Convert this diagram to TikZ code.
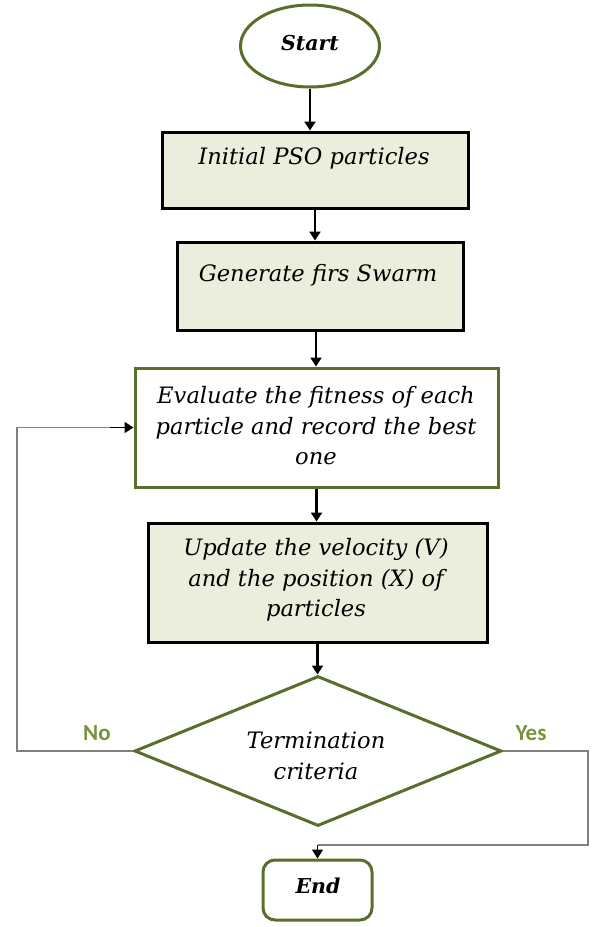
\documentclass[tikz,border=0pt]{standalone}
\usepackage{fontspec}
\setmainfont{DejaVu Serif}
\newfontfamily\lblfont{Carlito}
\usetikzlibrary{shapes.geometric,arrows.meta,calc}
\definecolor{olivegreen}{HTML}{5A6E2B}
\definecolor{lblgreen}{HTML}{77933C}
\definecolor{boxfill}{HTML}{EBEEDD}
\definecolor{linegray}{HTML}{808080}
\tikzset{
  procbox/.style={draw=black, line width=3pt, fill=boxfill, inner sep=0pt},
  evalbox/.style={draw=olivegreen, line width=3pt, fill=white, inner sep=0pt},
  txt/.style={font=\fontsize{22.6}{30.5}\selectfont\itshape, align=center, inner sep=0pt},
  flow/.style={draw=black, line width=2.2pt, -{Triangle[length=9pt,width=11pt]}},
  loopline/.style={draw=linegray, line width=1.6pt},
  yn/.style={font=\lblfont\bfseries\fontsize{23}{25}\selectfont, text=lblgreen, inner sep=0pt}
}
\begin{document}
\begin{tikzpicture}[x=1pt,y=-1pt]
\useasboundingbox (0,0) rectangle (598,927);
% Start
\node[ellipse, draw=olivegreen, line width=3pt, minimum width=139pt, minimum height=82pt, inner sep=0pt] (start) at (310,46) {};
\node[txt, font=\fontsize{20.5}{30}\selectfont\bfseries\itshape] (starttxt) at (310,43) {Start};
% Box 1
\node[procbox, minimum width=306pt, minimum height=76pt] (b1) at (315,170) {};
\node[txt] (b1txt) at (314,158) {Initial PSO particles};
% Box 2
\node[procbox, minimum width=286pt, minimum height=88pt] (b2) at (320,286) {};
\node[txt] (b2txt) at (318,275) {Generate firs Swarm};
% Box 3
\node[evalbox, minimum width=363pt, minimum height=119pt] (b3) at (316.5,427.5) {};
\node[txt] (b3txt) at (316,426) {Evaluate the fitness of each\\particle and record the best\\one};
% Box 4
\node[procbox, minimum width=339pt, minimum height=119pt] (b4) at (317.5,582.5) {};
\node[txt] (b4txt) at (316,580) {Update the velocity (V)\\and the position (X) of\\particles};
% Diamond
\node[diamond, draw=olivegreen, line width=3pt, minimum width=367pt, minimum height=150pt, inner sep=0pt] (dia) at (318,751) {};
\node[txt] (diatxt) at (316,756) {Termination\\criteria};
% End
\node[draw=olivegreen, line width=3pt, rounded corners=12pt, minimum width=109pt, minimum height=60pt, inner sep=0pt] (end) at (317.5,890) {};
\node[txt, font=\fontsize{20.5}{30}\selectfont\bfseries\itshape] (endtxt) at (318,886) {End};
% Labels
\node[yn] (no) at (97,733) {No};
\node[yn] (yes) at (531,733) {Yes};
% Flow arrows
\coordinate (b2out) at (316,330);
\draw[flow] (start.south) -- (start.south |- b1.north);
\draw[flow] (b1.south) -- (b1.south |- b2.north);
\draw[flow] (b2out) -- (b2out |- b3.north);
\draw[flow] (b3.south) -- (b3.south |- b4.north);
\draw[flow] (b4.south) -- (b4.south |- dia.north);
% No loop
\coordinate (nocorner) at (17,751);
\coordinate (noarrow) at (110,427.5);
\draw[loopline] (dia.west) -- (nocorner) |- (noarrow);
\draw[flow, line width=1.6pt] (noarrow) -- (b3.west);
% Yes path
\coordinate (yescorner) at (588,751);
\coordinate (yesbottom) at (588,845);
\coordinate (yesturn) at (317.5,845);
\draw[loopline] (dia.east) -- (yescorner) -- (yesbottom) -- (yesturn);
\draw[flow, line width=1.6pt] (yesturn) -- (end.north);
\end{tikzpicture}
\end{document}
